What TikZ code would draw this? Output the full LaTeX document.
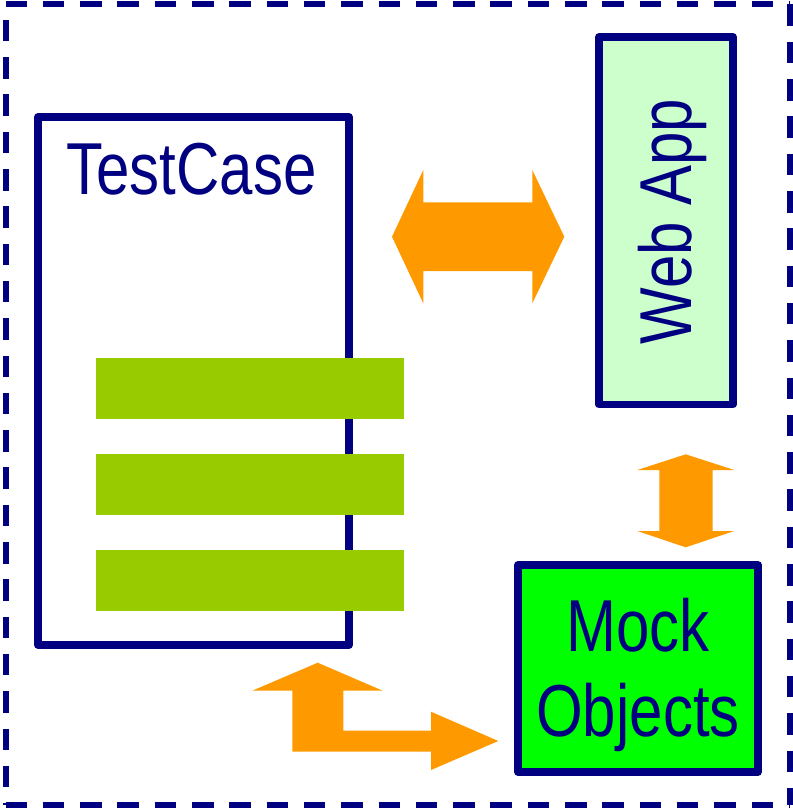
\documentclass[tikz,border=0pt]{standalone}
\usepackage{fontspec}
\newfontfamily\labfont[FakeStretch=0.815]{Liberation Sans}
\definecolor{navy}{HTML}{000080}
\definecolor{orangearrow}{HTML}{FF9900}
\definecolor{barcol}{HTML}{99CC00}
\definecolor{webfill}{HTML}{CCFFCC}
\definecolor{mockfill}{HTML}{00FF00}
\begin{document}
\begin{tikzpicture}[x=1pt,y=-1pt,
  boxstyle/.style={draw=navy, line width=7.5pt, line join=round, rectangle, inner sep=0pt, outer sep=0pt},
  barstyle/.style={fill=barcol, rectangle, inner sep=0pt, outer sep=0pt, minimum width=308.3pt, minimum height=61pt},
  labstyle/.style={text=navy, inner sep=0pt, outer sep=0pt, font=\labfont\fontsize{73.6pt}{85pt}\selectfont},
  frame/.style={draw=navy, line width=6pt, dash pattern=on 21.5pt off 15.8pt},
  blockarrow/.style={fill=orangearrow}]
\useasboundingbox (0,0) rectangle (792,808);
% dashed frame
\coordinate (tl) at (5.5,4.5);
\coordinate (tr) at (789.5,4.5);
\coordinate (bl) at (5.5,805);
\coordinate (br) at (789.5,805);
\draw[frame] (tl) -- (tr);
\draw[frame, dash phase=22pt] (tl) -- (bl);
\draw[frame] (bl) -- (br);
\draw[frame] (tr) -- (br);
% TestCase box
\node[boxstyle, fill=white, minimum width=311pt, minimum height=528pt] (tc) at (193.5,381) {};
\node[labstyle, anchor=base] (tctext) at (191.5,194) {TestCase};
% bars
\node[barstyle] (bar1) at (250.15,388.8) {};
\node[barstyle] (bar2) at (250.15,484.65) {};
\node[barstyle] (bar3) at (250.15,580.85) {};
% Web App
\node[boxstyle, fill=webfill, minimum width=134pt, minimum height=367.5pt] (wa) at (666,220.75) {};
\node[labstyle, rotate=90, anchor=base] (watext) at (691.7,221.5) {Web App};
% Mock Objects
\node[boxstyle, fill=mockfill, minimum width=240pt, minimum height=207pt] (mo) at (638,668.5) {};
\node[labstyle, anchor=north, align=center] (motext) at (638,597.7) {Mock\\Objects};
% horizontal double arrow
\fill[blockarrow] (392,236.7) -- (423.3,170) -- (423.3,202.3) -- (532.3,202.3) -- (532.3,170) -- (564.3,236.7) -- (532.3,303.3) -- (532.3,271) -- (423.3,271) -- (423.3,303.3) -- cycle;
% vertical double arrow
\fill[blockarrow] (685.7,454.3) -- (734.3,470) -- (712.7,470) -- (712.7,531) -- (734.3,531) -- (685.7,547.3) -- (637.3,531) -- (659.3,531) -- (659.3,470) -- (637.3,470) -- cycle;
% L-shaped arrow
\fill[blockarrow] (317.7,662.7) -- (382.7,690.7) -- (343.3,690.7) -- (343.3,730.7) -- (431,730.7) -- (431,711.7) -- (498.3,741) -- (431,770) -- (431,751.7) -- (292.3,751.7) -- (292.3,690.7) -- (252.3,690.7) -- cycle;
\end{tikzpicture}
\end{document}
